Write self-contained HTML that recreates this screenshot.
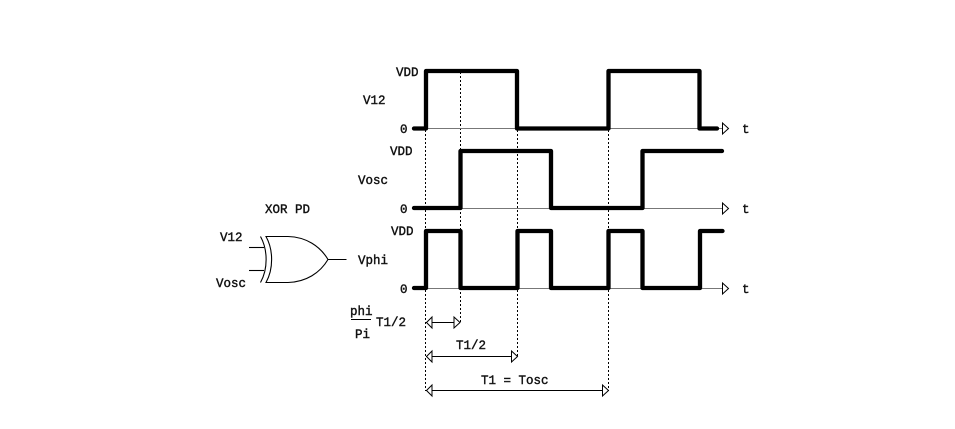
<!DOCTYPE html>
<html>
<head>
<meta charset="utf-8">
<style>
html,body{margin:0;padding:0;background:#fff;width:955px;height:429px;overflow:hidden}
svg{display:block}
text{font-family:"Liberation Mono",monospace;font-size:12.5px;font-weight:normal;fill:#111;stroke:#111;stroke-width:.4px}
</style>
</head>
<body>
<svg width="955" height="429" viewBox="0 0 955 429">
<g fill="none" stroke="#000" stroke-width="1" stroke-dasharray="2 2">
<path d="M425.500 130V391"/>
<path d="M460.500 72V322"/>
<path d="M517.500 130V356"/>
<path d="M608.500 130V391"/>
</g>
<g fill="none" stroke="#777" stroke-width="1">
<path d="M413 128.500H722"/>
<path d="M413 208.500H722"/>
<path d="M413 288.500H722"/>
</g>
<g fill="#fff" stroke="#000" stroke-width="1">
<path d="M722.500 123L728.500 128.500L722.500 134Z"/>
<path d="M722.500 203L728.500 208.500L722.500 214Z"/>
<path d="M722.500 283L728.500 288.500L722.500 294Z"/>
</g>
<g fill="none" stroke="#000" stroke-width="4.300" stroke-linecap="round" stroke-linejoin="round">
<path d="M414 128.500H426V71H517V128.500H608.500V71H699.500V128.500H717"/>
<path d="M414 208H460.500V151H551V208H642.500V151H722"/>
<path d="M414 288H426V231H460.500V288H517.500V231H551V288H608.500V231H642.500V288H700V231H722.500"/>
</g>
<g fill="none" stroke="#000" stroke-width="1">
<path d="M426 322.500H460"/>
<path d="M426 356.500H517"/>
<path d="M426 390.500H608"/>
<path d="M432 317L426.500 322.500L432 328Z" fill="#fff"/>
<path d="M454 317L460 322.500L454 328Z" fill="#fff"/>
<path d="M432 351L426.500 356.500L432 362Z" fill="#fff"/>
<path d="M511.500 351L517.500 356.500L511.500 362Z" fill="#fff"/>
<path d="M432 385L426.500 390.500L432 396Z" fill="#fff"/>
<path d="M602.500 385L608.500 390.500L602.500 396Z" fill="#fff"/>
<path d="M351 319.500H371"/>
</g>
<g fill="none" stroke="#000" stroke-width="1.100">
<path d="M249 247.500H264"/>
<path d="M249 270.500H264"/>
<path d="M260.500 236.500C268 250 268 269 260.500 282.500"/>
<path d="M266 236.500H288C306 237 320 246 328 259.500C320 273 306 282 288 282.500H266C273.500 269 273.500 250 266 236.500Z"/>
<path d="M328 259.500H346.500"/>
</g>
<text x="396" y="76">VDD</text>
<text x="363" y="104">V12</text>
<text x="400" y="133">0</text>
<text x="390" y="155">VDD</text>
<text x="358" y="184">Vosc</text>
<text x="400" y="213">0</text>
<text x="391" y="235">VDD</text>
<text x="358" y="264">Vphi</text>
<text x="400" y="293">0</text>
<text x="742" y="133">t</text>
<text x="742" y="213">t</text>
<text x="742" y="293">t</text>
<text x="265" y="213">XOR PD</text>
<text x="220" y="241">V12</text>
<text x="216" y="287">Vosc</text>
<text x="350" y="315">phi</text>
<text x="355" y="338">Pi</text>
<text x="376" y="326">T1/2</text>
<text x="456" y="349">T1/2</text>
<text x="481" y="384">T1 = Tosc</text>
</svg>
</body>
</html>
